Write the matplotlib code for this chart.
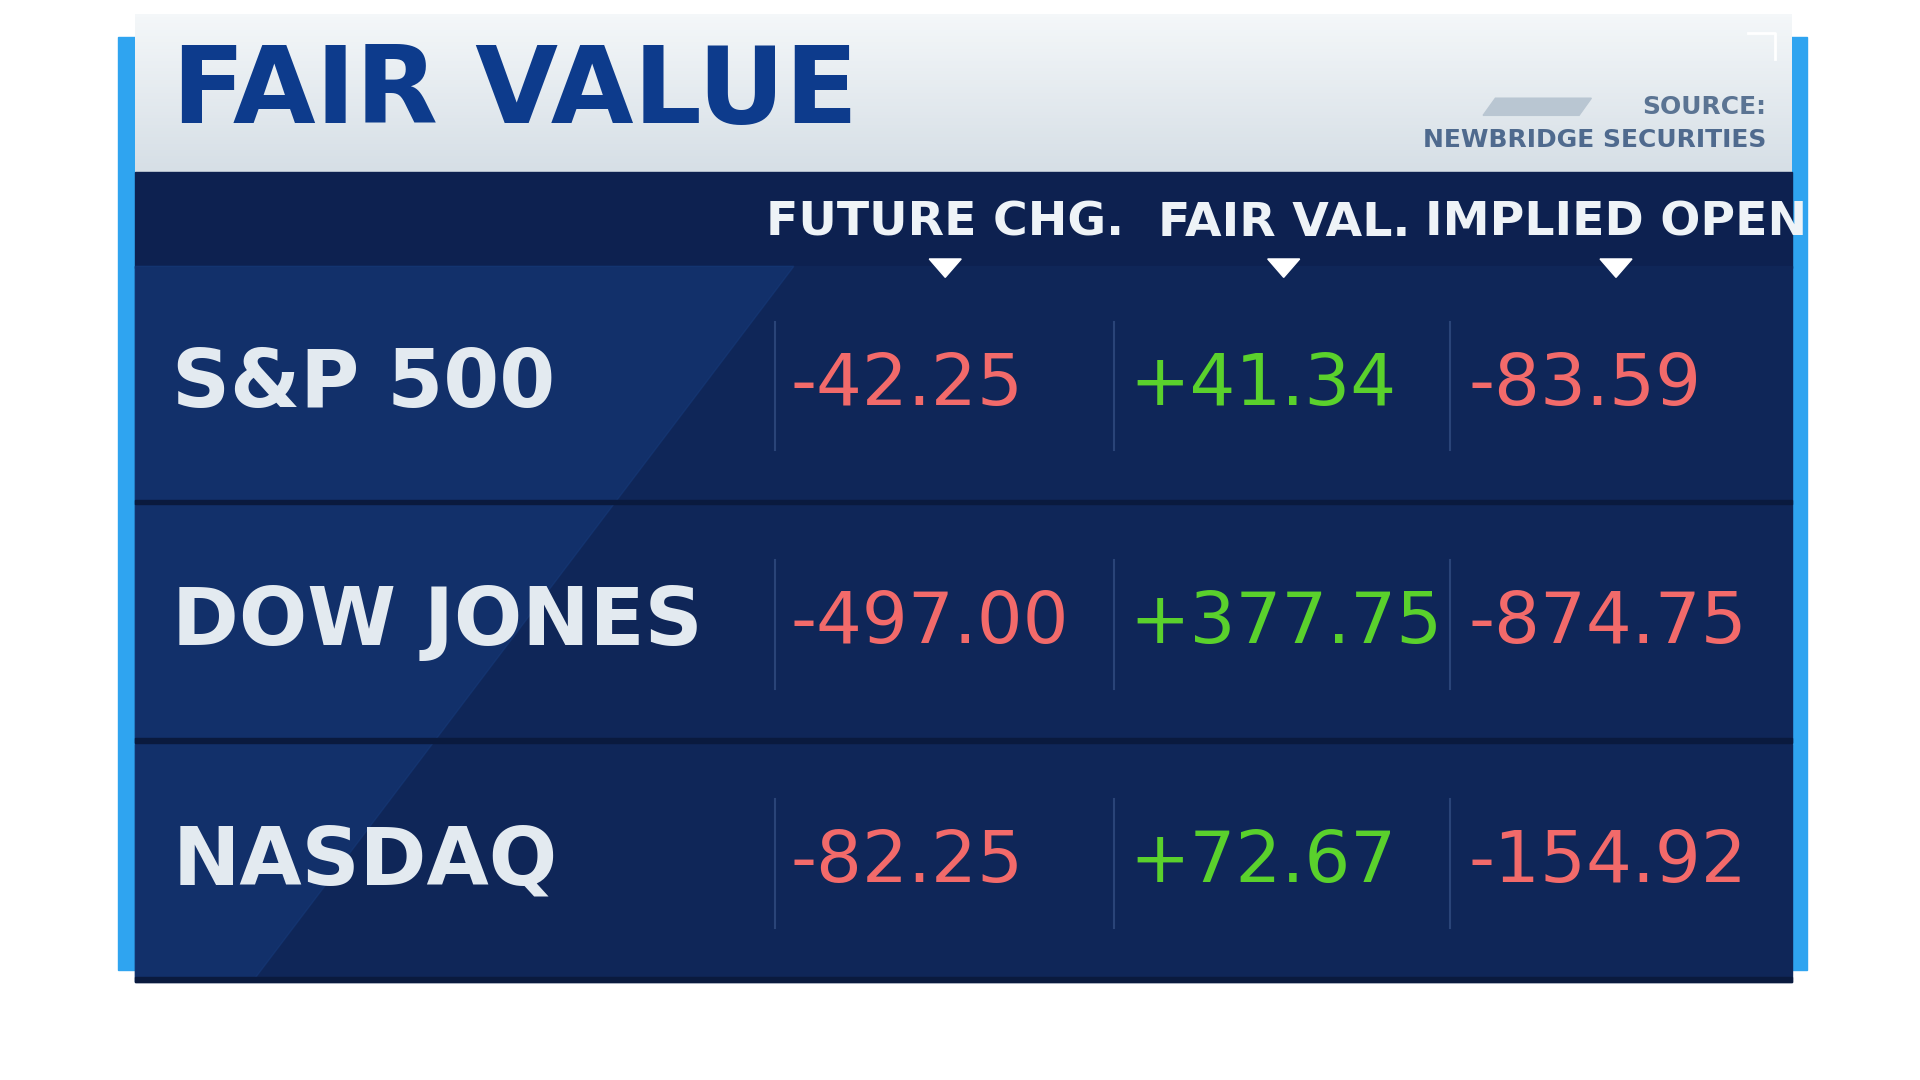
import matplotlib
matplotlib.use("Agg")
import matplotlib.pyplot as plt
from matplotlib.patches import Rectangle, Polygon
import numpy as np

# --------------------------------------------------------------------- datos
indices = ["S&P 500", "DOW JONES", "NASDAQ"]
columns = ["FUTURE CHG.", "FAIR VAL.", "IMPLIED OPEN"]
future_chg = [-42.25, -497.00, -82.25]
fair_val = [41.34, 377.75, 72.67]
implied_open = [-83.59, -874.75, -154.92]
title = "FAIR VALUE"
source = ["SOURCE:", "NEWBRIDGE SECURITIES"]

RED = "#f26a6a"
GREEN = "#5ad12c"

fig = plt.figure(figsize=(19.2, 10.8), dpi=100)
ax = fig.add_axes([0, 0, 1, 1])
ax.set_xlim(0, 1560)
ax.set_ylim(880, 0)
ax.axis("off")

# barras laterales azules
ax.add_patch(Rectangle((96, 30), 16, 760, color="#2fa4f0"))
ax.add_patch(Rectangle((1452, 30), 16, 760, color="#2fa4f0"))

# cabecera clara con degradado
grad = np.linspace(0, 1, 50).reshape(-1, 1)
ax.imshow(grad, extent=(110, 1456, 140, 12), cmap=matplotlib.colors.LinearSegmentedColormap.from_list(
    "hdr", ["#f4f7f9", "#d6dfe6"]), aspect="auto", zorder=1)
ax.set_xlim(0, 1560)
ax.set_ylim(880, 0)
ax.text(140, 76, title, color="#0d3b8c", fontsize=77, fontweight="bold",
        ha="left", va="center", zorder=3)
ax.text(1435, 87, source[0], color="#5b7493", fontsize=18, fontweight="bold",
        ha="right", va="center", zorder=3)
ax.text(1435, 114, source[1], color="#4f6a8e", fontsize=18, fontweight="bold",
        ha="right", va="center", zorder=3)
ax.add_patch(Polygon([(1215, 80), (1293, 80), (1283, 94), (1205, 94)],
                     color="#b9c6d2", zorder=2))
ax.plot([1420, 1442, 1442], [27, 27, 48], color="white", lw=2, zorder=3)

# banda de títulos de columna
ax.add_patch(Rectangle((110, 140), 1346, 78, color="#0d2150", zorder=1))
col_centers = [768, 1043, 1313]
for name, cx in zip(columns, col_centers):
    ax.text(cx, 182, name, color="#eef3f7", fontsize=34, fontweight="bold",
            ha="center", va="center", zorder=3)
    ax.add_patch(Polygon([(cx - 13, 211), (cx + 13, 211), (cx, 226)],
                         color="white", zorder=4))

# filas
row_tops = [217, 411, 606]
row_h = 194
for top in row_tops:
    ax.add_patch(Rectangle((110, top), 1346, row_h, color="#0f2658", zorder=1))
    ax.add_patch(Rectangle((110, top + row_h - 4), 1346, 4, color="#0a1a3e", zorder=2))
# diagonal más clara a la izquierda
ax.add_patch(Polygon([(110, 217), (645, 217), (205, 800), (110, 800)],
                     color="#163a7a", alpha=0.55, zorder=1.5))

for x in [630, 905, 1178]:
    for top in row_tops:
        ax.plot([x, x], [top + 45, top + 150], color="#2a4478", lw=1.5, zorder=2)

val_x = [642, 918, 1193]
for i, name in enumerate(indices):
    cy = row_tops[i] + 97
    ax.text(140, cy, name, color="#e3eaf0", fontsize=58, fontweight="bold",
            ha="left", va="center", zorder=3)
    for j, series in enumerate([future_chg, fair_val, implied_open]):
        v = series[i]
        ax.text(val_x[j], cy, f"{v:+.2f}",
                color=GREEN if v > 0 else RED, fontsize=52,
                ha="left", va="center", zorder=3)

fig.savefig("out.png", dpi=100, facecolor="white")
